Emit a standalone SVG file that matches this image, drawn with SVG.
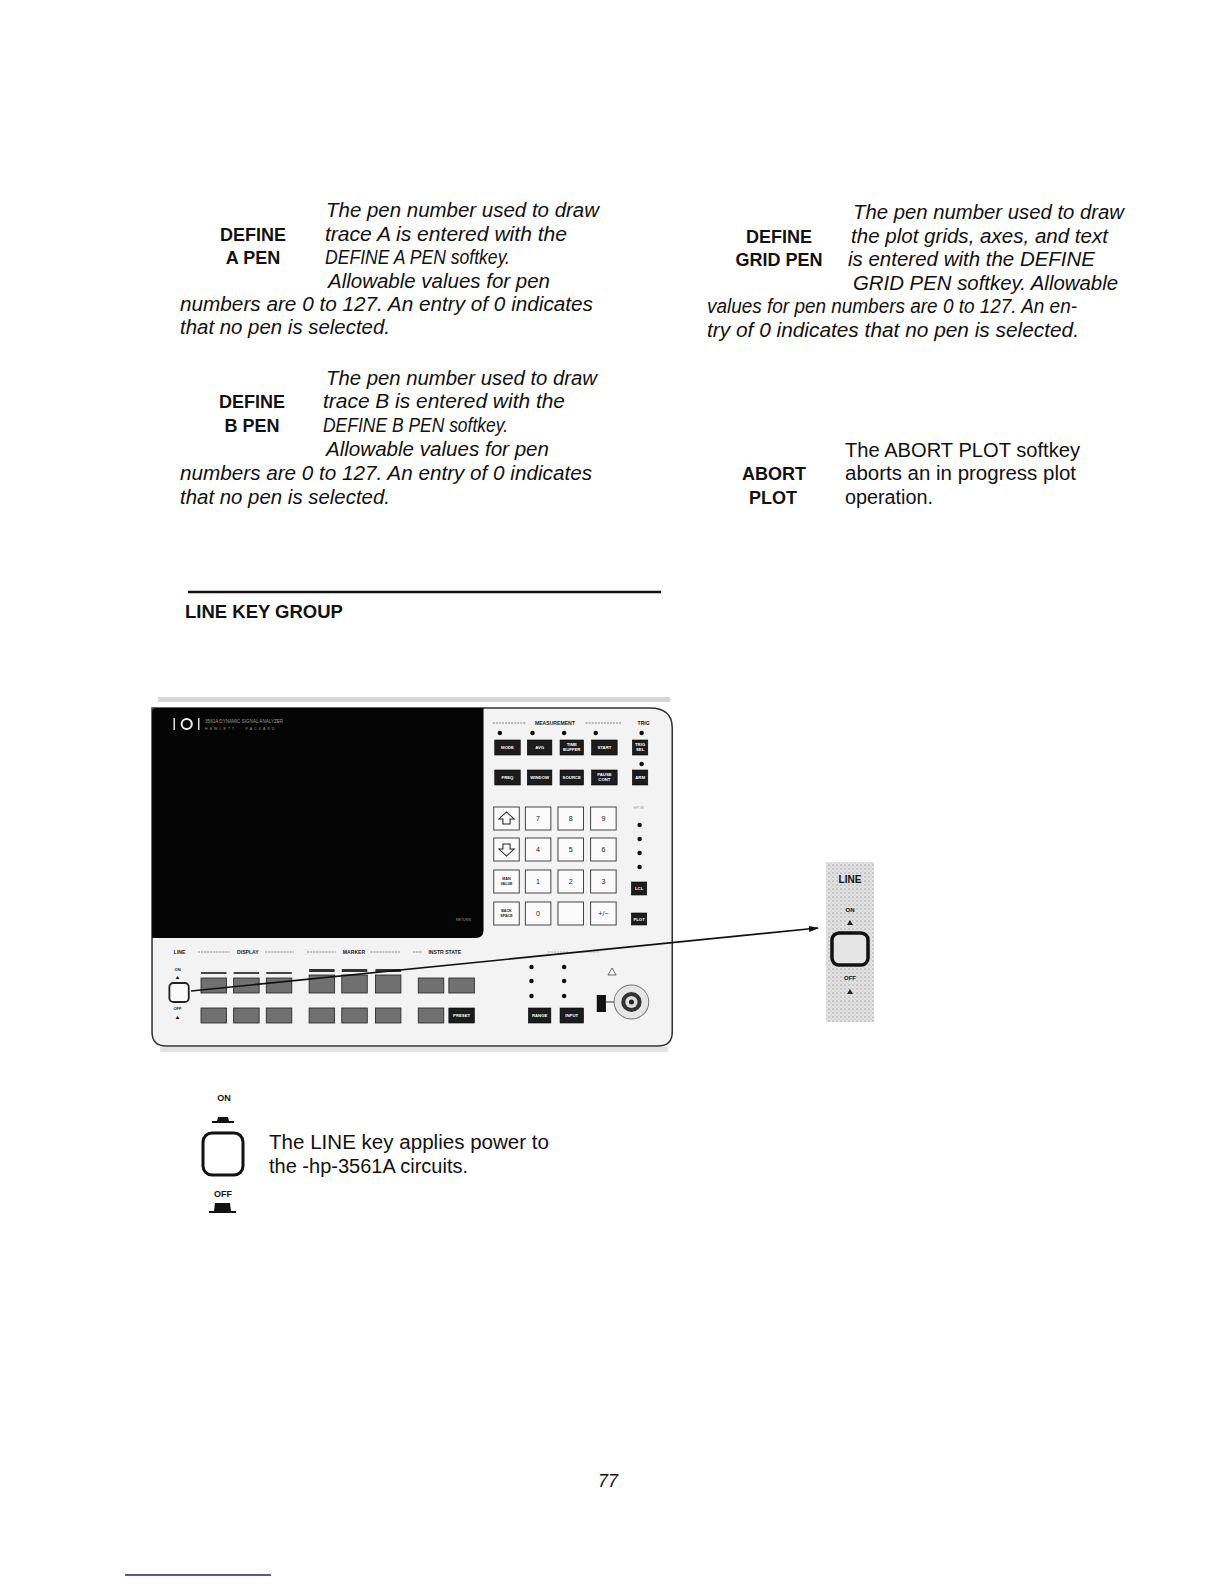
<svg xmlns="http://www.w3.org/2000/svg" width="1224" height="1584" viewBox="0 0 1224 1584">
<defs>
<style>
.it{font-family:"Liberation Sans",Arial,sans-serif;font-style:italic;font-size:20px;fill:#111}
.rg{font-family:"Liberation Sans",Arial,sans-serif;font-size:20px;fill:#111}
.bd{font-family:"Liberation Sans",Arial,sans-serif;font-weight:bold;font-size:18px;fill:#111;text-anchor:middle}
.hd{font-family:"Liberation Sans",Arial,sans-serif;font-weight:bold;font-size:18.5px;fill:#111}
.tiny{font-family:"Liberation Sans",Arial,sans-serif;font-size:4.2px;fill:#fff;text-anchor:middle;font-weight:bold}
.tinyd{font-family:"Liberation Sans",Arial,sans-serif;font-size:5px;fill:#222;text-anchor:middle;font-weight:bold}
.tinyg{font-family:"Liberation Sans",Arial,sans-serif;font-size:4.5px;fill:#999}
.num{font-family:"Liberation Sans",Arial,sans-serif;font-size:7px;fill:#222;text-anchor:middle}
.dk{fill:#1c1c1c;stroke:#000;stroke-width:0.6}
.sk{fill:#707070;stroke:#222;stroke-width:0.8}
.wk{fill:#fbfbfb;stroke:#333;stroke-width:0.9}
.led{fill:#111}
.gl{stroke:#bbb;stroke-width:2;stroke-dasharray:2 1}
.icon{font-family:"Liberation Sans",Arial,sans-serif;font-weight:bold;fill:#111;text-anchor:middle}
</style>
<pattern id="spk" width="4" height="4" patternUnits="userSpaceOnUse">
<rect width="4" height="4" fill="#e2e2e2"/>
<circle cx="1" cy="1" r="0.7" fill="#9a9a9a"/>
<circle cx="3" cy="3" r="0.5" fill="#b5b5b5"/>
</pattern>
<marker id="arr" markerWidth="10" markerHeight="8" refX="9" refY="4" orient="auto" markerUnits="userSpaceOnUse">
<path d="M0,1 L10,4 L0,7 Z" fill="#111"/>
</marker>
</defs>
<rect width="1224" height="1584" fill="#fff"/>

<g id="define-a-pen">
<text class="it" x="326" y="217" textLength="273" lengthAdjust="spacingAndGlyphs">The pen number used to draw</text>
<text class="bd" x="253" y="241">DEFINE</text>
<text class="it" x="325" y="241" textLength="242" lengthAdjust="spacingAndGlyphs">trace A is entered with the</text>
<text class="bd" x="253" y="264">A PEN</text>
<text class="it" x="325" y="264" textLength="185" lengthAdjust="spacingAndGlyphs">DEFINE A PEN softkey.</text>
<text class="it" x="328" y="288" textLength="222" lengthAdjust="spacingAndGlyphs">Allowable values for pen</text>
<text class="it" x="180" y="311" textLength="413" lengthAdjust="spacingAndGlyphs">numbers are 0 to 127. An entry of 0 indicates</text>
<text class="it" x="180" y="334" textLength="210" lengthAdjust="spacingAndGlyphs">that no pen is selected.</text>
</g>

<g id="define-grid-pen">
<text class="it" x="853" y="219" textLength="271" lengthAdjust="spacingAndGlyphs">The pen number used to draw</text>
<text class="bd" x="779" y="243">DEFINE</text>
<text class="it" x="851" y="243" textLength="257" lengthAdjust="spacingAndGlyphs">the plot grids, axes, and text</text>
<text class="bd" x="779" y="266">GRID PEN</text>
<text class="it" x="848" y="266" textLength="247" lengthAdjust="spacingAndGlyphs">is entered with the DEFINE</text>
<text class="it" x="853" y="290" textLength="265" lengthAdjust="spacingAndGlyphs">GRID PEN softkey. Allowable</text>
<text class="it" x="707" y="313" textLength="370" lengthAdjust="spacingAndGlyphs">values for pen numbers are 0 to 127. An en-</text>
<text class="it" x="707" y="337" textLength="372" lengthAdjust="spacingAndGlyphs">try of 0 indicates that no pen is selected.</text>
</g>

<g id="define-b-pen">
<text class="it" x="326" y="385" textLength="271" lengthAdjust="spacingAndGlyphs">The pen number used to draw</text>
<text class="bd" x="252" y="408">DEFINE</text>
<text class="it" x="323" y="408" textLength="242" lengthAdjust="spacingAndGlyphs">trace B is entered with the</text>
<text class="bd" x="252" y="432">B PEN</text>
<text class="it" x="323" y="432" textLength="185" lengthAdjust="spacingAndGlyphs">DEFINE B PEN softkey.</text>
<text class="it" x="326" y="456" textLength="223" lengthAdjust="spacingAndGlyphs">Allowable values for pen</text>
<text class="it" x="180" y="480" textLength="412" lengthAdjust="spacingAndGlyphs">numbers are 0 to 127. An entry of 0 indicates</text>
<text class="it" x="180" y="504" textLength="210" lengthAdjust="spacingAndGlyphs">that no pen is selected.</text>
</g>

<g id="abort-plot">
<text class="rg" x="845" y="457" textLength="235" lengthAdjust="spacingAndGlyphs">The ABORT PLOT softkey</text>
<text class="bd" x="774" y="480">ABORT</text>
<text class="rg" x="845" y="480" textLength="231" lengthAdjust="spacingAndGlyphs">aborts an in progress plot</text>
<text class="bd" x="773" y="504">PLOT</text>
<text class="rg" x="845" y="504" textLength="88" lengthAdjust="spacingAndGlyphs">operation.</text>
</g>

<g id="heading">
<line x1="188" y1="592" x2="661" y2="592" stroke="#111" stroke-width="2.5"/>
<text class="hd" x="185" y="618">LINE KEY GROUP</text>
</g>

<g id="instrument" transform="matrix(1.02,0,0,1,-3,0)">
<rect x="158" y="697" width="502" height="5" fill="#d6d6d6"/>
<rect x="160" y="1047" width="498" height="5" fill="#e2e2e2"/>
<path d="M152,708 L640,708 Q662,708 662,728 L662,1032 Q662,1046 648,1046 L166,1046 Q152,1046 152,1032 Z" fill="#f3f3f3" stroke="#333" stroke-width="1.5"/>
<path d="M152,712 Q152,708 156,708 L477,708 L477,930 Q477,938 469,938 L152,938 Z" fill="#050505"/>
<!-- logo -->
<rect x="173" y="718" width="1.5" height="12" fill="#ddd"/>
<circle cx="186" cy="724" r="5" fill="none" stroke="#eee" stroke-width="2"/>
<rect x="197" y="718" width="1.5" height="12" fill="#ddd"/>
<text class="tinyg" x="204" y="723" fill="#888">3561A DYNAMIC SIGNAL ANALYZER</text>
<text class="tinyg" x="204" y="730" fill="#777" style="font-size:3.5px;letter-spacing:2px">HEWLETT · PACKARD</text>
<text class="tinyg" x="450" y="921" fill="#888" style="font-size:3.5px">RETURN</text>

<!-- measurement section -->
<line x1="486" y1="723" x2="518" y2="723" class="gl"/>
<text class="tinyd" x="547" y="725">MEASUREMENT</text>
<line x1="577" y1="723" x2="612" y2="723" class="gl"/>
<text class="tinyd" x="634" y="725">TRIG</text>
<circle class="led" cx="493" cy="733" r="2.2"/>
<circle class="led" cx="525" cy="733" r="2.2"/>
<circle class="led" cx="556" cy="733" r="2.2"/>
<circle class="led" cx="587" cy="733" r="2.2"/>
<circle class="led" cx="632" cy="733" r="2.2"/>
<circle class="led" cx="632" cy="764" r="2.2"/>

<rect class="dk" x="488" y="740" width="25" height="15"/>
<rect class="dk" x="520" y="740" width="24" height="15"/>
<rect class="dk" x="552" y="740" width="23" height="15"/>
<rect class="dk" x="583" y="740" width="25" height="15"/>
<rect class="dk" x="623" y="740" width="15" height="15"/>
<text class="tiny" x="500.5" y="749">MODE</text>
<text class="tiny" x="532" y="749">AVG</text>
<text class="tiny" x="563.5" y="746.5">TIME</text>
<text class="tiny" x="563.5" y="751.5">BUFFER</text>
<text class="tiny" x="595.5" y="749">START</text>
<text class="tiny" x="630.5" y="746.5">TRIG</text>
<text class="tiny" x="630.5" y="751.5">SEL</text>

<rect class="dk" x="488" y="770" width="25" height="15"/>
<rect class="dk" x="520" y="770" width="24" height="15"/>
<rect class="dk" x="552" y="770" width="23" height="15"/>
<rect class="dk" x="583" y="770" width="25" height="15"/>
<rect class="dk" x="623" y="770" width="15" height="15"/>
<text class="tiny" x="500.5" y="779">FREQ</text>
<text class="tiny" x="532" y="779">WINDOW</text>
<text class="tiny" x="563.5" y="779">SOURCE</text>
<text class="tiny" x="595.5" y="776.5">PAUSE</text>
<text class="tiny" x="595.5" y="781.5">CONT</text>
<text class="tiny" x="630.5" y="779">ARM</text>

<!-- numeric keypad -->
<rect class="wk" x="487" y="807" width="25" height="23"/>
<rect class="wk" x="518" y="807" width="25" height="23"/>
<rect class="wk" x="550" y="807" width="25" height="23"/>
<rect class="wk" x="582" y="807" width="25" height="23"/>
<rect class="wk" x="487" y="838" width="25" height="23"/>
<rect class="wk" x="518" y="838" width="25" height="23"/>
<rect class="wk" x="550" y="838" width="25" height="23"/>
<rect class="wk" x="582" y="838" width="25" height="23"/>
<rect class="wk" x="487" y="870" width="25" height="23"/>
<rect class="wk" x="518" y="870" width="25" height="23"/>
<rect class="wk" x="550" y="870" width="25" height="23"/>
<rect class="wk" x="582" y="870" width="25" height="23"/>
<rect class="wk" x="487" y="902" width="25" height="23"/>
<rect class="wk" x="518" y="902" width="25" height="23"/>
<rect class="wk" x="550" y="902" width="25" height="23"/>
<rect class="wk" x="582" y="902" width="25" height="23"/>
<path d="M499.5,812 L507,819 L503,819 L503,824 L496,824 L496,819 L492,819 Z" fill="none" stroke="#222" stroke-width="1"/>
<path d="M499.5,856 L507,849 L503,849 L503,844 L496,844 L496,849 L492,849 Z" fill="none" stroke="#222" stroke-width="1"/>
<text class="num" x="530.5" y="821">7</text>
<text class="num" x="562.5" y="821">8</text>
<text class="num" x="594.5" y="821">9</text>
<text class="num" x="530.5" y="852">4</text>
<text class="num" x="562.5" y="852">5</text>
<text class="num" x="594.5" y="852">6</text>
<text class="num" x="530.5" y="884">1</text>
<text class="num" x="562.5" y="884">2</text>
<text class="num" x="594.5" y="884">3</text>
<text class="num" x="530.5" y="916">0</text>
<text class="num" x="594.5" y="916">+/−</text>
<text class="tinyd" x="499.5" y="880" style="font-size:3.6px">MAN</text>
<text class="tinyd" x="499.5" y="885" style="font-size:3.6px">VALUE</text>
<text class="tinyd" x="499.5" y="912" style="font-size:3.6px">BACK</text>
<text class="tinyd" x="499.5" y="917" style="font-size:3.6px">SPACE</text>

<text class="tinyg" x="624" y="809" style="font-size:3.8px">HP-IB</text>
<circle class="led" cx="630" cy="825" r="2.2"/>
<circle class="led" cx="630" cy="839" r="2.2"/>
<circle class="led" cx="630" cy="853" r="2.2"/>
<circle class="led" cx="630" cy="867" r="2.2"/>
<rect class="dk" x="622" y="882" width="15" height="13"/>
<text class="tiny" x="629.5" y="890">LCL</text>
<rect class="dk" x="622" y="913" width="15" height="12"/>
<text class="tiny" x="629.5" y="921">PLOT</text>

<!-- lower section labels -->
<text class="tinyd" x="179" y="954">LINE</text>
<line x1="197" y1="952" x2="228" y2="952" class="gl"/>
<text class="tinyd" x="246" y="954">DISPLAY</text>
<line x1="263" y1="952" x2="291" y2="952" class="gl"/>
<line x1="304" y1="952" x2="332" y2="952" class="gl"/>
<text class="tinyd" x="350" y="954">MARKER</text>
<line x1="366" y1="952" x2="396" y2="952" class="gl"/>
<line x1="408" y1="952" x2="417" y2="952" class="gl"/>
<text class="tinyd" x="439" y="954">INSTR STATE</text>
<line x1="540" y1="952" x2="560" y2="952" class="gl" style="stroke:#d0d0d0"/>
<line x1="573" y1="952" x2="590" y2="952" class="gl" style="stroke:#d0d0d0"/>

<text class="tinyd" x="177" y="971" style="font-size:4px">ON</text>
<path d="M175,979 L179,979 L177,976 Z" fill="#222"/>
<rect x="169" y="983" width="19" height="19" rx="4" fill="#fafafa" stroke="#222" stroke-width="1.8"/>
<text class="tinyd" x="177" y="1010" style="font-size:4px">OFF</text>
<path d="M175,1019 L179,1019 L177,1016 Z" fill="#222"/>

<!-- softkeys top row -->
<rect x="200" y="972" width="25" height="2" fill="#444"/>
<rect x="232" y="972" width="25" height="2" fill="#444"/>
<rect x="264" y="972" width="25" height="2" fill="#444"/>
<rect x="306" y="969" width="25" height="3" fill="#333"/>
<rect x="338" y="969" width="25" height="3" fill="#333"/>
<rect x="371" y="969" width="25" height="3" fill="#333"/>
<rect class="sk" x="200" y="978" width="25" height="15"/>
<rect class="sk" x="232" y="978" width="25" height="15"/>
<rect class="sk" x="264" y="978" width="25" height="15"/>
<rect class="sk" x="306" y="975" width="25" height="18"/>
<rect class="sk" x="338" y="975" width="25" height="18"/>
<rect class="sk" x="371" y="975" width="25" height="18"/>
<rect class="sk" x="413" y="978" width="25" height="15"/>
<rect class="sk" x="443" y="978" width="25" height="15"/>
<!-- softkeys bottom row -->
<rect class="sk" x="200" y="1008" width="25" height="15"/>
<rect class="sk" x="232" y="1008" width="25" height="15"/>
<rect class="sk" x="264" y="1008" width="25" height="15"/>
<rect class="sk" x="306" y="1008" width="25" height="15"/>
<rect class="sk" x="338" y="1008" width="25" height="15"/>
<rect class="sk" x="371" y="1008" width="25" height="15"/>
<rect class="sk" x="413" y="1008" width="25" height="15"/>
<rect class="dk" x="443" y="1008" width="25" height="15"/>
<text class="tiny" x="455.5" y="1017">PRESET</text>

<!-- input section -->
<circle class="led" cx="524" cy="967" r="2.2"/>
<circle class="led" cx="524" cy="981" r="2.2"/>
<circle class="led" cx="524" cy="996" r="2.2"/>
<circle class="led" cx="556" cy="967" r="2.2"/>
<circle class="led" cx="556" cy="981" r="2.2"/>
<circle class="led" cx="556" cy="996" r="2.2"/>
<path d="M603,968 L607,975 L599,975 Z" fill="none" stroke="#333" stroke-width="0.7"/>
<rect class="dk" x="521" y="1008" width="22" height="15"/>
<text class="tiny" x="532" y="1017">RANGE</text>
<rect class="dk" x="552" y="1008" width="23" height="15"/>
<text class="tiny" x="563.5" y="1017">INPUT</text>
<rect x="588" y="995" width="9" height="17" fill="#111"/>
<line x1="597" y1="1002" x2="606" y2="1002" stroke="#333" stroke-width="1"/>
<circle cx="622" cy="1002" r="17" fill="#e6e6e6" stroke="#777" stroke-width="1"/>
<circle cx="622" cy="1002" r="10" fill="#333"/>
<circle cx="622" cy="1002" r="6" fill="#ddd"/>
<circle cx="622" cy="1002" r="2.5" fill="#222"/>
</g>

<g id="connectors">
<line x1="191" y1="991" x2="818" y2="928" stroke="#111" stroke-width="1.6" marker-end="url(#arr)"/>
</g>

<g id="line-key-inset">
<rect x="826" y="862" width="48" height="160" fill="url(#spk)"/>
<text class="icon" x="850" y="883" style="font-size:10px">LINE</text>
<text class="icon" x="850" y="912" style="font-size:6px">ON</text>
<path d="M847,925 L853,925 L850,920 Z" fill="#222"/>
<rect x="832" y="933" width="36" height="32" rx="7" fill="#e4e4e4" stroke="#111" stroke-width="3.5"/>
<text class="icon" x="850" y="980" style="font-size:6px">OFF</text>
<path d="M847,994 L853,994 L850,989 Z" fill="#222"/>
</g>

<g id="line-key-icon">
<text class="icon" x="224" y="1101" style="font-size:9px">ON</text>
<path d="M212,1123 L234,1123 L234,1121 L229,1121 L228,1117 L218,1117 L217,1121 L212,1121 Z" fill="#111"/>
<rect x="203" y="1133" width="40" height="42" rx="9" fill="#fff" stroke="#111" stroke-width="3"/>
<text class="icon" x="223" y="1197" style="font-size:9px">OFF</text>
<path d="M209,1213 L236,1213 L236,1211 L231,1211 L230,1203 L215,1203 L214,1211 L209,1211 Z" fill="#111"/>
</g>

<g id="line-key-text">
<text class="rg" x="269" y="1149" textLength="280" lengthAdjust="spacingAndGlyphs">The LINE key applies power to</text>
<text class="rg" x="269" y="1173" textLength="199" lengthAdjust="spacingAndGlyphs">the -hp-3561A circuits.</text>
</g>

<g id="footer">
<text class="it" x="598" y="1487" style="font-size:18px">77</text>
<line x1="125" y1="1575" x2="271" y2="1575" stroke="#1f1f8a" stroke-width="1.5"/>
</g>
</svg>
